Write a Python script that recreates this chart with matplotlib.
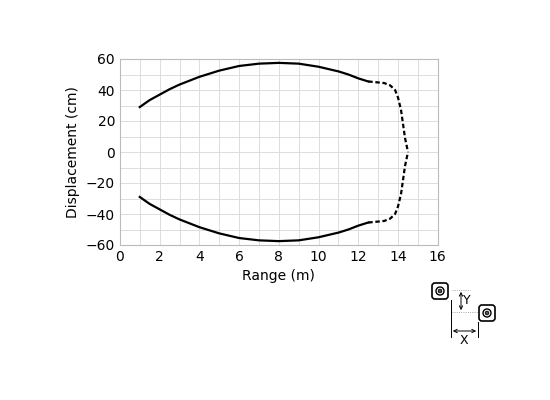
import numpy as np
import matplotlib.pyplot as plt
from matplotlib.patches import FancyBboxPatch, Circle

# upper half of the detection zone (lower half is the mirror)
solid_x = [1.0, 1.5, 2.0, 2.5, 3.0, 4.0, 5.0, 6.0, 7.0, 8.0, 9.0, 10.0, 11.0, 11.5, 12.0, 12.5]
solid_y = [29.0, 33.5, 37.0, 40.5, 43.5, 48.5, 52.5, 55.5, 57.0, 57.5, 57.0, 55.0, 52.0, 50.0, 47.5, 45.5]
dash_x = [12.5, 12.9, 13.3, 13.6, 13.85, 14.0, 14.15, 14.25, 14.35, 14.45, 14.5]
dash_y = [45.5, 45.0, 44.5, 43.0, 40.0, 35.0, 27.0, 18.0, 9.0, 3.0, 0.0]

fig = plt.figure(figsize=(5.5, 4), dpi=100)
ax = fig.add_axes([0.218, 0.3875, 0.578, 0.465])
for sign in (1, -1):
    ax.plot(solid_x, [sign * v for v in solid_y], color='black', lw=1.6)
    ax.plot(dash_x, [sign * v for v in dash_y], color='black', lw=1.6, ls=(0, (2, 1.2)))
ax.set_xlim(0, 16)
ax.set_ylim(-60, 60)
ax.set_xticks(range(0, 17, 2))
ax.set_yticks(range(-60, 61, 20))
ax.set_xticklabels([str(v) for v in range(0, 17, 2)])
ax.set_yticklabels([str(v).replace('-', '\u2212') for v in range(-60, 61, 20)])
ax.set_xticks(np.arange(0, 16.1, 1), minor=True)
ax.set_yticks(np.arange(-60, 61, 10), minor=True)
ax.grid(True, which='both', color='#dddddd', lw=0.7)
ax.tick_params(which='both', length=0, labelsize=10)
for s in ax.spines.values():
    s.set_color('#bbbbbb')
ax.set_xlabel('Range (m)', fontsize=10)
ax.set_ylabel('Displacement (cm)', fontsize=10)

# sensor sketch in pixel coordinates
ov = fig.add_axes([0, 0, 1, 1])
ov.set_xlim(0, 550)
ov.set_ylim(400, 0)
ov.axis('off')
for cx, cy in [(440, 291), (487, 313)]:
    ov.add_patch(FancyBboxPatch((cx - 8, cy - 8), 16, 16, boxstyle='round,pad=0,rounding_size=3',
                                fc='white', ec='black', lw=1.2))
    ov.add_patch(Circle((cx, cy), 4, fc='white', ec='black', lw=1))
    ov.add_patch(Circle((cx, cy), 1.8, fc='#555555', ec='black', lw=0.6))
ov.plot([451, 451], [300, 337], color='black', lw=0.7)
ov.plot([478, 478], [322, 337], color='black', lw=0.7)
ov.plot([452, 470], [290, 290], color='#888888', lw=0.6, ls=':')
ov.plot([452, 478], [312, 312], color='#888888', lw=0.6, ls=':')
ov.annotate('', xy=(461, 289), xytext=(461, 313),
            arrowprops=dict(arrowstyle='<->', lw=0.7, mutation_scale=6))
ov.annotate('', xy=(450, 331), xytext=(479, 331),
            arrowprops=dict(arrowstyle='<->', lw=0.7, mutation_scale=6))
ov.text(467, 300, 'Y', fontsize=9, ha='center', va='center')
ov.text(464, 341, 'X', fontsize=9, ha='center', va='center')

fig.savefig('out.png', dpi=100)
